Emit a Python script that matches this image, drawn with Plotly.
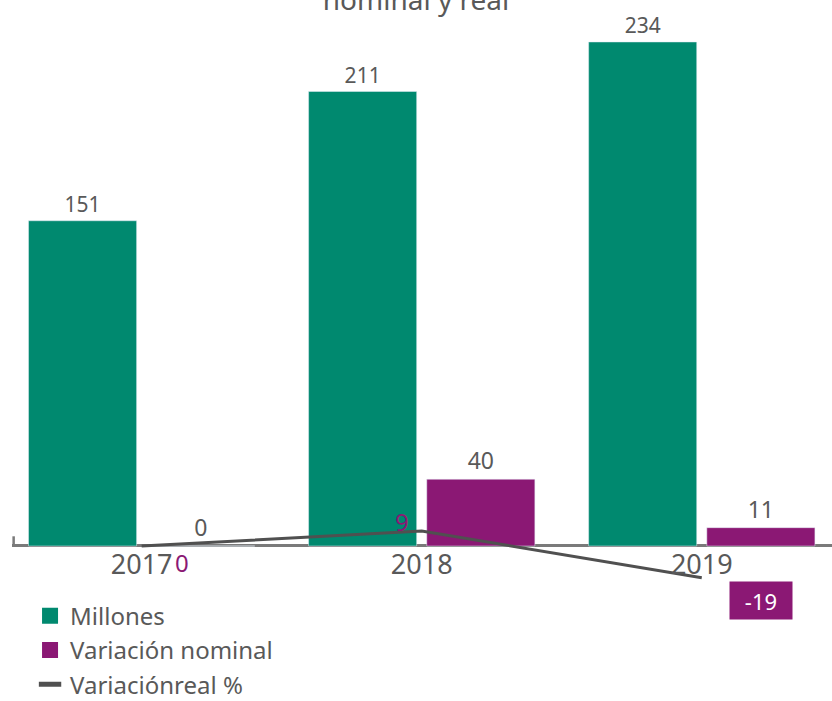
import plotly.graph_objects as go

years = ["2017", "2018", "2019"]
millones = [151, 211, 234]
var_nominal = [0, 40, 11]
var_real = [0, 9, -19]

GREEN = "#00896F"
PURPLE = "#8B1874"
GRAY = "#595959"
FONT = "Noto Sans"

idx = list(range(len(years)))

fig = go.Figure()
fig.add_trace(go.Bar(
    name="Millones", x=years, y=millones, marker_color=GREEN,
    width=0.386, offset=-0.404, showlegend=False,
    text=millones, textposition="outside", cliponaxis=False,
    textfont=dict(size=21, color=GRAY, family=FONT),
))
fig.add_trace(go.Bar(
    name="Variación nominal", x=years, y=var_nominal, marker_color=PURPLE,
    width=0.386, offset=0.018, yaxis="y2", showlegend=False,
    text=var_nominal, textposition="outside", cliponaxis=False,
    textfont=dict(size=23, color=GRAY, family=FONT),
))
fig.add_trace(go.Scatter(
    name="Variaciónreal %", x=years, y=var_real, yaxis="y2", showlegend=False,
    mode="lines", line=dict(color="#505050", width=3), cliponaxis=False,
))

# legend-only entries with large symbols
fig.add_trace(go.Scatter(name="Millones", x=[None], y=[None], mode="markers",
                         marker=dict(symbol="square", size=22, color=GREEN)))
fig.add_trace(go.Scatter(name="Variación nominal", x=[None], y=[None], mode="markers",
                         marker=dict(symbol="square", size=22, color=PURPLE)))
fig.add_trace(go.Scatter(name="Variaciónreal %", x=[None], y=[None], mode="markers",
                         marker=dict(symbol="line-ew-open", size=22, color="#505050",
                                     line=dict(width=6, color="#505050"))))

# labels for the line points
styles = [
    dict(xshift=40, yshift=-16, font=dict(size=24, color=PURPLE, family=FONT)),
    dict(xshift=-20, yshift=10, font=dict(size=24, color=PURPLE, family=FONT)),
    dict(xshift=59, yshift=-23, font=dict(size=22, color="white", family=FONT),
         bgcolor=PURPLE, borderpad=5, width=52, height=27),
]
for i, v, st in zip(idx, var_real, styles):
    fig.add_annotation(x=i, y=v, xref="x", yref="y2", text=str(v),
                       showarrow=False, **st)

# small left end tick of the axis line
fig.add_shape(type="line", xref="paper", yref="y", x0=0.002, x1=0.002, y0=0, y1=4.5,
              line=dict(color="#7a7a7a", width=2.5))

fig.update_layout(
    width=832, height=701,
    margin=dict(l=12, r=0, t=20, b=1, autoexpand=False),
    paper_bgcolor="white", plot_bgcolor="white",
    title=dict(text="nominal y real", x=0.5, xanchor="center", y=1.0,
               yanchor="middle", font=dict(size=28, color=GRAY, family=FONT)),
    showlegend=True,
    legend=dict(x=0.022, xanchor="left", xref="paper", yref="container",
                y=0.153, yanchor="top",
                orientation="v", font=dict(size=24, color=GRAY, family=FONT),
                tracegroupgap=0, bgcolor="rgba(0,0,0,0)"),
    xaxis=dict(type="category", range=[-0.463, 2.465], showgrid=False,
               anchor="free", position=0.2265,
               showline=False, ticks="", tickfont=dict(size=27, color=GRAY, family=FONT),
               ticklabelstandoff=0),
    yaxis=dict(range=[-71.5, 244.2], showgrid=False,
               showticklabels=False, zeroline=True, zerolinecolor="#7a7a7a",
               zerolinewidth=2.5, showline=False),
    yaxis2=dict(range=[-92.2, 315.0], overlaying="y", side="right",
                showgrid=False, showticklabels=False, zeroline=False, showline=False),
    barmode="overlay",
)

fig.write_html("out.html")
